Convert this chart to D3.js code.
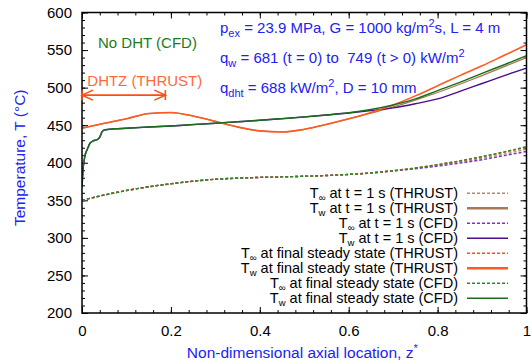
<!DOCTYPE html>
<meta charset="utf-8">
<html>
<head>
<style>
  body { margin: 0; background: #fff; }
  svg text { font-family: "Liberation Sans", Arial, Helvetica, sans-serif; }
</style>
</head>
<body>
<script src="https://d3js.org/d3.v7.min.js"></script>
<div id="chart"></div>
<script>

// axial grid for most series
var zs = [0, 0.05, 0.1, 0.15, 0.2, 0.25, 0.3, 0.35, 0.4, 0.45, 0.5,
          0.55, 0.6, 0.65, 0.7, 0.75, 0.8, 0.85, 0.9, 0.95, 1];
// denser grid near the inlet for the CFD wall temperature
var zsWallCfd = [0, 0.003, 0.007, 0.012, 0.018, 0.025, 0.035, 0.04, 0.045, 0.05, 0.06, 0.08,
                 0.1, 0.15, 0.2, 0.25, 0.3, 0.35, 0.4, 0.45, 0.5, 0.55, 0.6, 0.65, 0.7,
                 0.75, 0.8, 0.85, 0.9, 0.95, 1];

// bulk temperatures
var tInfThrust1s = [350, 357, 363, 368, 372, 375.5, 378, 379.5, 380.5, 381.2, 382,
                    383, 384.5, 386.5, 389.3, 392.6, 396.5, 401, 406, 411.5, 418];
var tInfCfd1s    = [350, 357, 363, 368, 372, 375.5, 378, 379.5, 380.5, 381.2, 382,
                    383, 384.5, 386.3, 389, 392, 395.5, 399.5, 404, 409.5, 415];
var tInfThrustSS = [350, 357, 363, 368, 372, 375.5, 378, 379.5, 380.5, 381.2, 382,
                    383, 384.5, 386.5, 389.5, 393, 397.5, 402.5, 408, 414, 420.5];
var tInfCfdSS    = [350, 357, 363, 368, 372, 375.5, 378, 379.5, 380.5, 381.2, 382,
                    383, 384.5, 386.5, 389.5, 393, 397.5, 402.5, 408.2, 414.5, 421.5];

// wall temperatures
var twThrust1s = [446, 452.5, 458.5, 465.5, 466.8, 462.2, 455.1, 447.6, 442.4, 441, 444.5,
                  451, 458.5, 466, 474.5, 483.5, 493.5, 504.5, 516, 528, 540];
var twThrustSS = [446, 452.5, 458.5, 465.5, 466.8, 462.2, 455.1, 447.6, 442.4, 441, 444.5,
                  451, 458.5, 467, 477, 489, 502.5, 516, 529, 543, 557];
var twCfd1s  = [368, 395, 410, 418, 426, 429, 431, 434, 441, 443.5, 444.5, 445.3,
                446, 447.5, 449, 450.8, 452.5, 454.5, 456.5, 458.7, 461, 463.5, 466.3, 469.5, 473,
                478.5, 485, 495, 505.5, 516, 526];
var twCfdSS  = [368, 395, 410, 418, 426, 429, 431, 434, 441, 443.5, 444.5, 445.3,
                446, 447.5, 449, 450.8, 452.5, 454.5, 456.5, 458.7, 461, 463.5, 466.5, 471, 477,
                485, 496, 507, 519, 530.5, 542.5];

var xTicks = [0, 0.2, 0.4, 0.6, 0.8, 1];
var yTicks = [200, 250, 300, 350, 400, 450, 500, 550, 600];

var dhtzEnd = 0.1875, dhtzArrowT = 490;

var series = [
  {label: ["T", "∞", " at t = 1 s (THRUST)"], z: zs, t: tInfThrust1s, color: "#b5876a", width: 1.4, dash: "3,2"},
  {label: ["T", "w", " at t = 1 s (THRUST)"], z: zs, t: twThrust1s, color: "#a8785a", width: 1.3, dash: null, lw: 2.6},
  {label: ["T", "∞", " at t = 1 s (CFD)"], z: zs, t: tInfCfd1s, color: "#7b2fd6", width: 1.4, dash: "3,2"},
  {label: ["T", "w", " at t = 1 s (CFD)"], z: zsWallCfd, t: twCfd1s, color: "#4a0d8c", width: 1.4, dash: null},
  {label: ["T", "∞", " at final steady state (THRUST)"], z: zs, t: tInfThrustSS, color: "#ff4d14", width: 1.4, dash: "3,2"},
  {label: ["T", "w", " at final steady state (THRUST)"], z: zs, t: twThrustSS, color: "#ff5a1f", width: 1.6, dash: null, lw: 2.6},
  {label: ["T", "∞", " at final steady state (CFD)"], z: zs, t: tInfCfdSS, color: "#2a8a2a", width: 1.4, dash: "3,2"},
  {label: ["T", "w", " at final steady state (CFD)"], z: zsWallCfd, t: twCfdSS, color: "#1a6e1a", width: 1.5, dash: null}
];

var W = 531, H = 364;
var margin = {top: 12.5, right: 4.5, bottom: 51, left: 82};
var width = W - margin.left - margin.right,
    height = H - margin.top - margin.bottom;

var svg = d3.select("#chart").append("svg")
    .attr("width", W).attr("height", H)
  .append("g")
    .attr("transform", "translate(" + margin.left + "," + margin.top + ")");

var x = d3.scaleLinear().domain([0, 1]).range([0, width]);
var y = d3.scaleLinear().domain([200, 600]).range([height, 0]);

var xMinor = d3.range(0, 1.0001, 0.04).map(function(d) { return +d.toFixed(2); });
var yMinor = d3.range(200, 601, 10);

function styleAxis(g) {
  g.select(".domain").remove();
  g.selectAll(".tick line").attr("stroke", "#000").attr("stroke-width", 1);
  g.selectAll("text").attr("font-size", 15).attr("fill", "#000")
    .attr("font-family", "Liberation Sans, Arial, sans-serif");
}

// minor ticks
svg.append("g").attr("transform", "translate(0," + height + ")")
  .call(d3.axisBottom(x).tickValues(xMinor).tickSize(-3).tickFormat("")).call(styleAxis);
svg.append("g")
  .call(d3.axisTop(x).tickValues(xMinor).tickSize(-3).tickFormat("")).call(styleAxis);
svg.append("g")
  .call(d3.axisLeft(y).tickValues(yMinor).tickSize(-3).tickFormat("")).call(styleAxis);
svg.append("g").attr("transform", "translate(" + width + ",0)")
  .call(d3.axisRight(y).tickValues(yMinor).tickSize(-3).tickFormat("")).call(styleAxis);

// major ticks
svg.append("g").attr("transform", "translate(0," + height + ")")
  .call(d3.axisBottom(x).tickValues(xTicks).tickSize(-6).tickPadding(12).tickFormat(d3.format("")))
  .call(styleAxis);
svg.append("g")
  .call(d3.axisTop(x).tickValues(xTicks).tickSize(-6).tickFormat("")).call(styleAxis);
svg.append("g")
  .call(d3.axisLeft(y).tickValues(yTicks).tickSize(-6).tickPadding(10).tickFormat(d3.format("d")))
  .call(styleAxis);
svg.append("g").attr("transform", "translate(" + width + ",0)")
  .call(d3.axisRight(y).tickValues(yTicks).tickSize(-6).tickFormat("")).call(styleAxis);

// curves
svg.append("clipPath").attr("id", "clip")
  .append("rect").attr("width", width).attr("height", height);

var plot = svg.append("g").attr("clip-path", "url(#clip)");

series.forEach(function(s) {
  var pts = s.z.map(function(z, i) { return [z, s.t[i]]; });
  var line = d3.line()
    .x(function(d) { return x(d[0]); })
    .y(function(d) { return y(d[1]); })
    .curve(d3.curveMonotoneX);
  plot.append("path")
    .datum(pts)
    .attr("d", line)
    .attr("fill", "none")
    .attr("stroke", s.color)
    .attr("stroke-width", s.width)
    .attr("stroke-dasharray", s.dash);
});

// frame
svg.append("rect")
  .attr("width", width).attr("height", height)
  .attr("fill", "none").attr("stroke", "#000").attr("stroke-width", 1.5);

// helper for text with sub/superscripts
function rich(sel, parts, small, drop) {
  small = small || 11;
  drop = drop || 4;
  parts.forEach(function(p) {
    var t = sel.append("tspan").text(p[0]);
    if (p[1] === "sub") t.attr("font-size", small).attr("dy", drop);
    else if (p[1] === "sup") t.attr("font-size", small).attr("dy", -6);
    else if (p[1] === "back") t.attr("dy", -drop);
    else if (p[1] === "down") t.attr("dy", 6);
  });
  return sel;
}

// legend
var legend = svg.append("g");
series.forEach(function(s, i) {
  var ly = 180.8 + i * 15;
  var txt = legend.append("text")
    .attr("x", 376).attr("y", ly + 5)
    .attr("text-anchor", "end")
    .attr("font-size", 14.5)
    .attr("fill", "#000");
  rich(txt, [[s.label[0]], [s.label[1], "sub"], [s.label[2], "back"]], 9.5, 3);
  legend.append("line")
    .attr("x1", 385).attr("x2", 426)
    .attr("y1", ly).attr("y2", ly)
    .attr("stroke", s.color)
    .attr("stroke-width", s.lw || s.width)
    .attr("stroke-dasharray", s.dash);
});

// annotations
var blue = "#2121f5";
var info = svg.append("g").attr("fill", blue).attr("font-size", 15);
rich(info.append("text").attr("x", 138).attr("y", 20),
  [["p"], ["ex", "sub"], [" = 23.9 MPa, G = 1000 kg/m", "back"], ["2", "sup"], ["s, L = 4 m", "down"]]);
rich(info.append("text").attr("x", 138).attr("y", 50),
  [["q"], ["w", "sub"], [" = 681 (t = 0) to\u00a0 749 (t > 0) kW/m", "back"], ["2", "sup"]]);
rich(info.append("text").attr("x", 138).attr("y", 80),
  [["q"], ["dht", "sub"], [" = 688 kW/m", "back"], ["2", "sup"], [", D = 10 mm", "down"]]);

svg.append("text")
  .attr("x", 16).attr("y", 35.8)
  .attr("font-size", 15).attr("fill", "#1e7a1e")
  .text("No DHT (CFD)");

var orange = "#ff4d14";
svg.append("text")
  .attr("x", 5.3).attr("y", 73.5)
  .attr("font-size", 15).attr("fill", "#ff6a3c")
  .text("DHTZ (THRUST)");

var ay = y(dhtzArrowT), ax0 = x(0), ax1 = x(dhtzEnd);
var arrow = svg.append("g").attr("stroke", orange).attr("stroke-width", 1.6).attr("fill", "none");
arrow.append("line").attr("x1", ax0).attr("x2", ax1).attr("y1", ay).attr("y2", ay);
arrow.append("path").attr("d", "M" + (ax0 + 11) + "," + (ay - 5) + "L" + ax0 + "," + ay + "L" + (ax0 + 11) + "," + (ay + 5));
arrow.append("path").attr("d", "M" + (ax1 - 11) + "," + (ay - 5) + "L" + ax1 + "," + ay + "L" + (ax1 - 11) + "," + (ay + 5));
arrow.append("line").attr("x1", ax0).attr("x2", ax0).attr("y1", ay - 5).attr("y2", ay + 5);
arrow.append("line").attr("x1", ax1).attr("x2", ax1).attr("y1", ay - 5).attr("y2", ay + 5);

// axis titles
var xt = svg.append("text")
  .attr("x", width / 2 - 2).attr("y", height + 45)
  .attr("text-anchor", "middle")
  .attr("font-size", 15.5).attr("fill", blue);
rich(xt, [["Non-dimensional axial location, z"], ["*", "sup"]]);

svg.append("text")
  .attr("transform", "translate(" + (-57) + "," + (height / 2 - 5) + ") rotate(-90)")
  .attr("text-anchor", "middle")
  .attr("font-size", 15.5).attr("fill", blue)
  .text("Temperature, T (°C)");

</script>
</body>
</html>
